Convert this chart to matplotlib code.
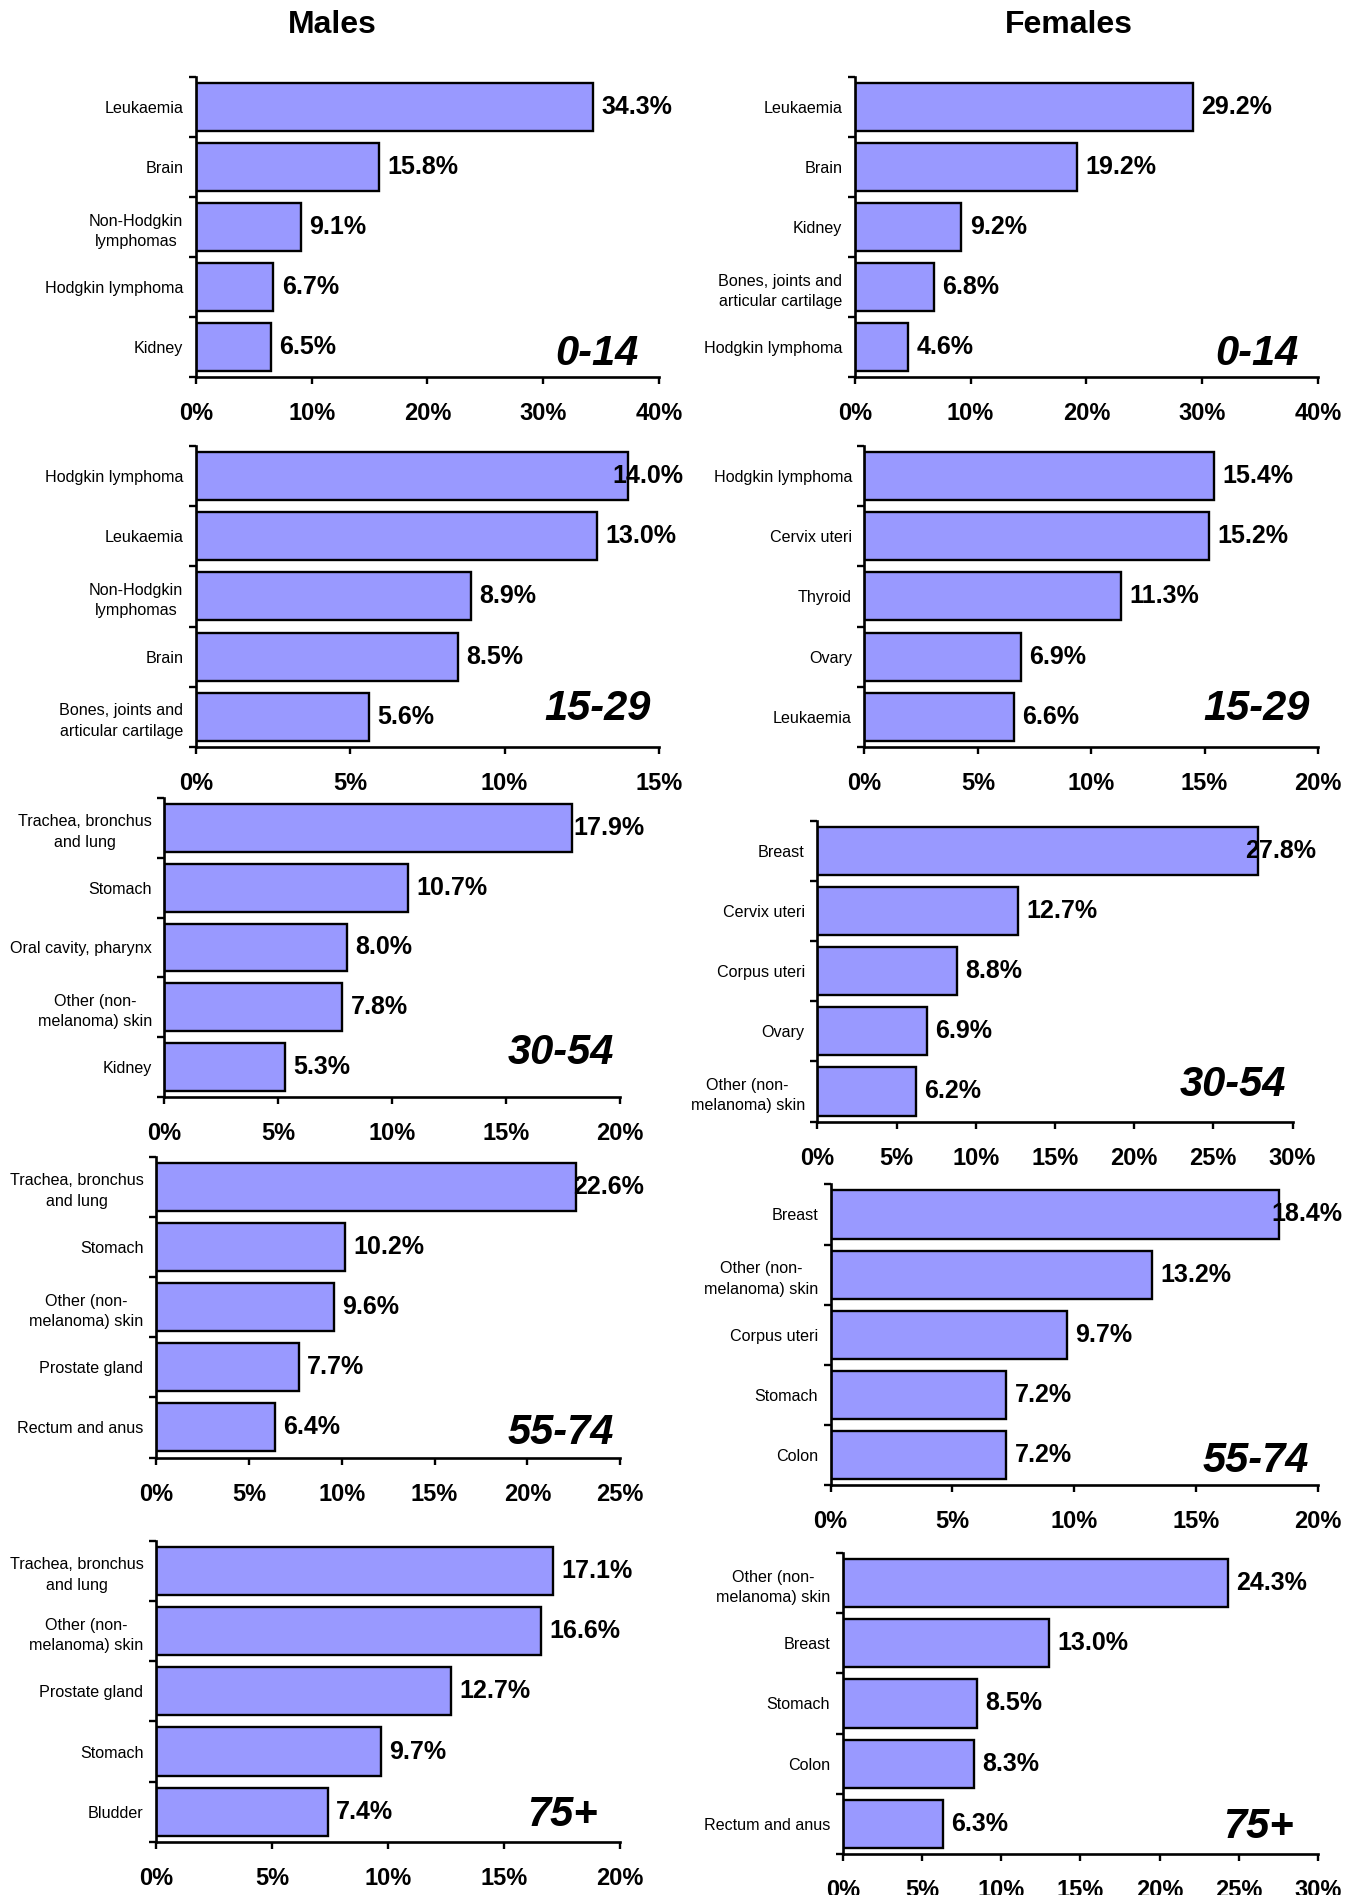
import matplotlib
matplotlib.use("Agg")
import matplotlib.pyplot as plt

plt.rcParams['font.family'] = ['Liberation Sans', 'DejaVu Sans']

# data: five most frequent sites per age band, % of all cancers
males_0_14_sites = ["Leukaemia", "Brain", "Non-Hodgkin\nlymphomas", "Hodgkin lymphoma", "Kidney"]
males_0_14_pct = [34.3, 15.8, 9.1, 6.7, 6.5]
females_0_14_sites = ["Leukaemia", "Brain", "Kidney", "Bones, joints and\narticular cartilage", "Hodgkin lymphoma"]
females_0_14_pct = [29.2, 19.2, 9.2, 6.8, 4.6]

males_15_29_sites = ["Hodgkin lymphoma", "Leukaemia", "Non-Hodgkin\nlymphomas", "Brain", "Bones, joints and\narticular cartilage"]
males_15_29_pct = [14.0, 13.0, 8.9, 8.5, 5.6]
females_15_29_sites = ["Hodgkin lymphoma", "Cervix uteri", "Thyroid", "Ovary", "Leukaemia"]
females_15_29_pct = [15.4, 15.2, 11.3, 6.9, 6.6]

males_30_54_sites = ["Trachea, bronchus\nand lung", "Stomach", "Oral cavity, pharynx", "Other (non-\nmelanoma) skin", "Kidney"]
males_30_54_pct = [17.9, 10.7, 8.0, 7.8, 5.3]
females_30_54_sites = ["Breast", "Cervix uteri", "Corpus uteri", "Ovary", "Other (non-\nmelanoma) skin"]
females_30_54_pct = [27.8, 12.7, 8.8, 6.9, 6.2]

males_55_74_sites = ["Trachea, bronchus\nand lung", "Stomach", "Other (non-\nmelanoma) skin", "Prostate gland", "Rectum and anus"]
males_55_74_pct = [22.6, 10.2, 9.6, 7.7, 6.4]
females_55_74_sites = ["Breast", "Other (non-\nmelanoma) skin", "Corpus uteri", "Stomach", "Colon"]
females_55_74_pct = [18.4, 13.2, 9.7, 7.2, 7.2]

males_75_sites = ["Trachea, bronchus\nand lung", "Other (non-\nmelanoma) skin", "Prostate gland", "Stomach", "Bludder"]
males_75_pct = [17.1, 16.6, 12.7, 9.7, 7.4]
females_75_sites = ["Other (non-\nmelanoma) skin", "Breast", "Stomach", "Colon", "Rectum and anus"]
females_75_pct = [24.3, 13.0, 8.5, 8.3, 6.3]

age_bands = ["0-14", "15-29", "30-54", "55-74", "75+"]
axis_max_males = [40, 15, 20, 25, 20]
axis_max_females = [40, 20, 30, 20, 30]
axis_step_males = [10, 5, 5, 5, 5]
axis_step_females = [10, 5, 5, 5, 5]

# layout, in pixels of a 1124x1568 canvas: left, right, top, bottom, age-label dx, dy
W, H = 1124.0, 1568.0
male_boxes = [(162, 545, 64, 312, 17, 19), (162, 545, 369, 618, 7, 31), (136, 513, 660, 908, 5, 37),
              (129, 513, 957, 1206, 5, 20), (129, 513, 1275, 1524, 19, 22)]
female_boxes = [(707, 1090, 64, 312, 16, 19), (715, 1090, 369, 618, 7, 31), (676, 1069, 679, 928, 5, 30),
                (687, 1090, 980, 1229, 7, 20), (697, 1090, 1285, 1534, 20, 22)]

panels = [
    (males_0_14_sites, males_0_14_pct), (males_15_29_sites, males_15_29_pct),
    (males_30_54_sites, males_30_54_pct), (males_55_74_sites, males_55_74_pct),
    (males_75_sites, males_75_pct),
]
panels_f = [
    (females_0_14_sites, females_0_14_pct), (females_15_29_sites, females_15_29_pct),
    (females_30_54_sites, females_30_54_pct), (females_55_74_sites, females_55_74_pct),
    (females_75_sites, females_75_pct),
]

bar_color = '#9999ff'

fig = plt.figure(figsize=(13.59, 18.95), dpi=100)

value_texts = []


def draw_panel(box, sites, pct, xmax, step, band):
    l, r, t, b, dx, dy = box
    ax = fig.add_axes([l / W, 1 - b / H, (r - l) / W, (b - t) / H])
    y = list(range(len(sites)))
    ax.barh(y, pct, height=0.8, color=bar_color, edgecolor='black', linewidth=1.7)
    ax.set_ylim(len(sites) - 0.5, -0.5)
    ax.set_xlim(0, xmax)
    ax.set_xticks(range(0, xmax + 1, step))
    ax.set_xticklabels([f"{v}%" for v in range(0, xmax + 1, step)], fontsize=17, fontweight='bold')
    ax.set_yticks(y)
    ax.set_yticklabels(sites, fontsize=11.6, multialignment='center', linespacing=1.45)
    ax.set_yticks([i - 0.5 for i in range(len(sites) + 1)], minor=True)
    ax.tick_params(axis='y', which='major', length=0, pad=9)
    ax.tick_params(axis='y', which='minor', length=5, width=1.7, direction='out')
    ax.tick_params(axis='x', which='major', length=5, width=1.7, direction='out', pad=13)
    for s in ['top', 'right']:
        ax.spines[s].set_visible(False)
    for s in ['left', 'bottom']:
        ax.spines[s].set_linewidth(1.9)
    for yi, v in zip(y, pct):
        txt = ax.annotate(f"{v:.1f}%", xy=(v, yi), xytext=(6, 0), textcoords='offset points',
                          ha='left', va='center', fontsize=18, fontweight='bold')
        value_texts.append((ax, txt))
    ax.text(1 - dx / (r - l), dy / (b - t), band, transform=ax.transAxes, ha='right', va='center',
            fontsize=30, fontweight='bold', fontstyle='italic')
    return ax


for i in range(5):
    draw_panel(male_boxes[i], panels[i][0], panels[i][1], axis_max_males[i], axis_step_males[i], age_bands[i])
    draw_panel(female_boxes[i], panels_f[i][0], panels_f[i][1], axis_max_females[i], axis_step_females[i], age_bands[i])

fig.text(275 / W, 1 - 21 / H, "Males", ha='center', va='center', fontsize=23, fontweight='bold')
fig.text(884 / W, 1 - 21 / H, "Females", ha='center', va='center', fontsize=23, fontweight='bold')

# labels that run past the plot area are pushed back inside, like the original
fig.canvas.draw()
renderer = fig.canvas.get_renderer()
for ax, txt in value_texts:
    ext = txt.get_window_extent(renderer)
    limit = ax.get_window_extent(renderer).x1 + 24
    if ext.x1 > limit:
        shift = (ext.x1 - limit) * 72.0 / fig.dpi
        ox, oy = txt.xyann
        txt.xyann = (ox - shift, oy)

fig.savefig("out.png", dpi=100)
